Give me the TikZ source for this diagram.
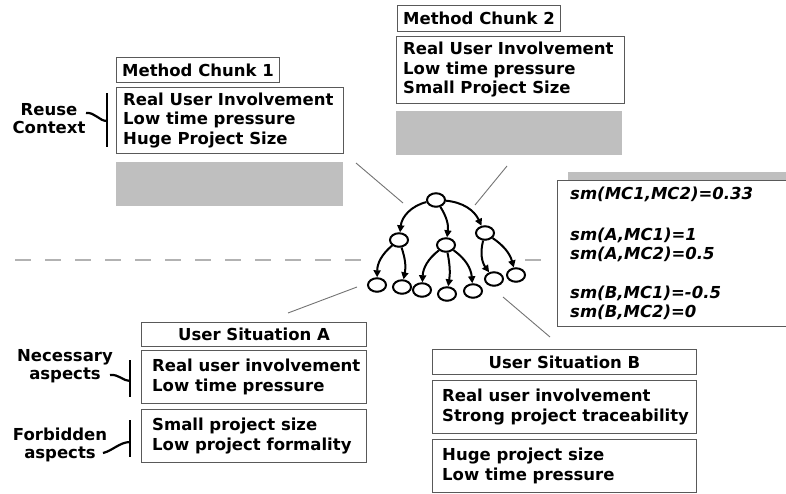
\documentclass[tikz,border=0pt]{standalone}
\usepackage{fontspec}
\setmainfont{DejaVu Sans}
\usetikzlibrary{shapes.geometric,arrows.meta}

\tikzset{
  boxframe/.style={draw=black!65, line width=1pt, fill=white, anchor=north west, inner sep=0pt},
  titlebox/.style={boxframe, font=\bfseries\fontsize{16.5}{19.5}\selectfont},
  boxtext/.style={anchor=west, align=left, inner sep=0pt, font=\bfseries\fontsize{16.5}{19.5}\selectfont},
  sidelabel/.style={align=center, inner sep=0pt, font=\bfseries\fontsize{16.5}{18}\selectfont},
  greybar/.style={fill=black!25, draw=none, anchor=north west, inner sep=0pt},
  bracket/.style={line width=2.2pt, black},
  linkline/.style={draw=black!55, line width=0.9pt},
  sepline/.style={draw=black!30, line width=2pt, dash pattern=on 16pt off 14pt},
  tnode/.style={ellipse, draw, line width=2pt, minimum width=18pt, minimum height=13.5pt, inner sep=0pt},
  tarrow/.style={line width=2pt, -{Triangle[length=7pt,width=7pt]}}
}

\begin{document}
\begin{tikzpicture}[x=1pt,y=-1pt]
    \useasboundingbox (0,0) rectangle (786,493);

    % dashed separation line
    \draw[sepline] (15,260) -- (365,260);
    \draw[sepline] (525,260) -- (545,260);

    % method chunk 1
    \node[titlebox, minimum width=163pt, minimum height=25pt] (mconetitle) at (116,57) {Method Chunk 1};
    \node[boxframe, minimum width=227pt, minimum height=66pt] (mconectx) at (116,87) {};
    \node[boxtext] (mconetext) at ([xshift=7pt]mconectx.west) {Real User Involvement\\Low time pressure\\Huge Project Size};
    \node[greybar, minimum width=227pt, minimum height=44pt] (mconebody) at (116,162) {};

    \node[sidelabel] (reuse) at (49,119) {Reuse\\Context};
    \draw[bracket] (107,93) -- (107,147);
    \draw[bracket] (86,113) .. controls (95,112) and (99,121) .. (107,121);

    % method chunk 2
    \node[titlebox, minimum width=163pt, minimum height=26pt] (mctwotitle) at (397,5) {Method Chunk 2};
    \node[boxframe, minimum width=228pt, minimum height=67pt] (mctwoctx) at (396,36) {};
    \node[boxtext] (mctwotext) at ([xshift=7pt]mctwoctx.west) {Real User Involvement\\Low time pressure\\Small Project Size};
    \node[greybar, minimum width=226pt, minimum height=44pt] (mctwobody) at (396,111) {};

    % similarity values
    \node[greybar, minimum width=222pt, minimum height=8pt] (smbar) at (568,172) {};
    \node[boxframe, minimum width=233pt, minimum height=146pt] (smbox) at (557,180) {};
    \node[boxtext, font=\bfseries\itshape\fontsize{16.5}{19}\selectfont] (smtext) at ([xshift=13pt]smbox.west)
      {sm(MC1,MC2)=0.33\\[22pt]sm(A,MC1)=1\\sm(A,MC2)=0.5\\[20pt]sm(B,MC1)=-0.5\\sm(B,MC2)=0};

    % method tree
    \node[tnode] (r) at (436,200) {};
    \node[tnode] (a) at (399,240) {};
    \node[tnode] (b) at (446,245) {};
    \node[tnode] (c) at (485,233) {};
    \node[tnode] (a1) at (377,285) {};
    \node[tnode] (a2) at (402,287) {};
    \node[tnode] (b1) at (422,290) {};
    \node[tnode] (b2) at (447,294) {};
    \node[tnode] (b3) at (473,291) {};
    \node[tnode] (c1) at (494,279) {};
    \node[tnode] (c2) at (516,275) {};
    \draw[tarrow] (r) to[bend right=35] (a);
    \draw[tarrow] (r) to[bend left=20] (b);
    \draw[tarrow] (r) to[bend left=30] (c);
    \draw[tarrow] (a) to[bend right=25] (a1);
    \draw[tarrow] (a) to[bend left=15] (a2);
    \draw[tarrow] (b) to[bend right=25] (b1);
    \draw[tarrow] (b) to[bend left=10] (b2);
    \draw[tarrow] (b) to[bend left=25] (b3);
    \draw[tarrow] (c) to[bend right=25] (c1);
    \draw[tarrow] (c) to[bend left=20] (c2);

    % links to the tree
    \coordinate (mconeend) at (356,163);
    \coordinate (mconetree) at (403,203);
    \coordinate (mctwoend) at (507,166);
    \coordinate (mctwotree) at (475,205);
    \coordinate (satree) at (357,287);
    \coordinate (saend) at (288,313);
    \coordinate (sbtree) at (503,297);
    \coordinate (sbend) at (550,337);
    \draw[linkline] (mconeend) -- (mconetree);
    \draw[linkline] (mctwoend) -- (mctwotree);
    \draw[linkline] (satree) -- (saend);
    \draw[linkline] (sbtree) -- (sbend);

    % user situation A
    \node[titlebox, minimum width=225pt, minimum height=24pt] (satitle) at (141,322) {User Situation A};
    \node[boxframe, minimum width=225pt, minimum height=53pt] (sanec) at (141,350) {};
    \node[boxtext] (sanectext) at ([xshift=11pt]sanec.west) {Real user involvement\\Low time pressure};
    \node[boxframe, minimum width=225pt, minimum height=53pt] (saforb) at (141,409) {};
    \node[boxtext] (saforbtext) at ([xshift=11pt]saforb.west) {Small project size\\Low project formality};

    \node[sidelabel] (neclabel) at (65,366) {Necessary\\aspects};
    \draw[bracket] (130,360) -- (130,397);
    \draw[bracket] (110,375) .. controls (119,374) and (123,381) .. (130,381);
    \node[sidelabel] (forblabel) at (60,445) {Forbidden\\aspects};
    \draw[bracket] (130,420) -- (130,457);
    \draw[bracket] (103,453) .. controls (112,451) and (120,442) .. (130,442);

    % user situation B
    \node[titlebox, minimum width=264pt, minimum height=25pt] (sbtitle) at (432,349) {User Situation B};
    \node[boxframe, minimum width=264pt, minimum height=53pt] (sbnec) at (432,380) {};
    \node[boxtext] (sbnectext) at ([xshift=10pt]sbnec.west) {Real user involvement\\Strong project traceability};
    \node[boxframe, minimum width=264pt, minimum height=53pt] (sbforb) at (432,439) {};
    \node[boxtext] (sbforbtext) at ([xshift=10pt]sbforb.west) {Huge project size\\Low time pressure};
\end{tikzpicture}
\end{document}
